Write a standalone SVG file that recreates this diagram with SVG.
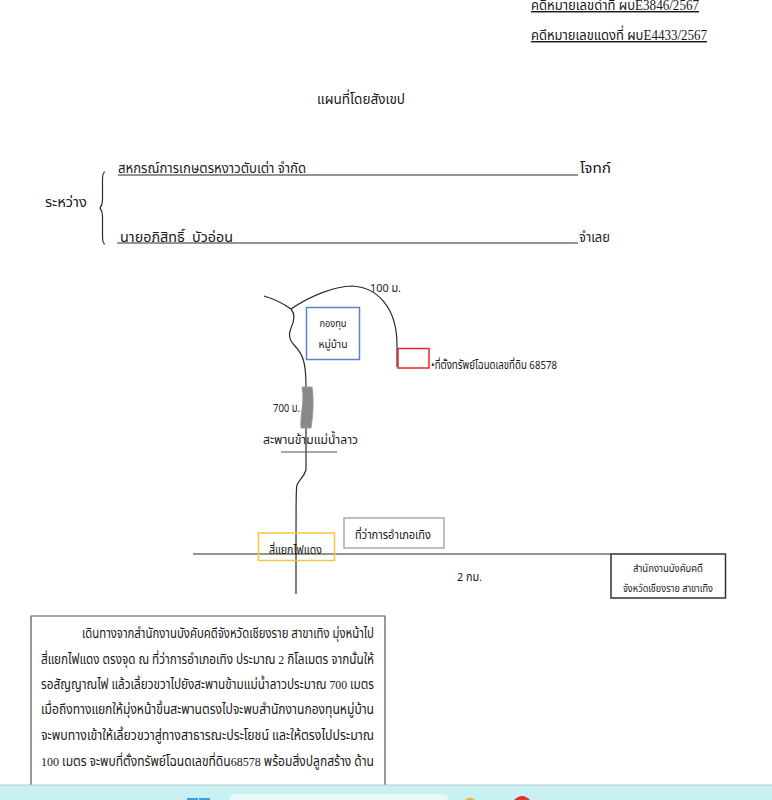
<svg xmlns="http://www.w3.org/2000/svg" width="772" height="800" viewBox="0 0 772 800">
<style>
text{font-family:"Liberation Serif","Noto Sans Thai","Noto Serif Thai","DejaVu Sans",serif;fill:#1a1a1a}
.s{font-family:"Noto Sans","Noto Sans Thai","DejaVu Sans",sans-serif}
.b{font-size:13.5px}
.h{font-size:14.5px}
.m{font-size:11px}
.l{fill:none;stroke:#2a2a2a;stroke-width:1.2}
</style>
<rect width="772" height="800" fill="#fff"/>
<g id="case-numbers">
<text class="h" x="531" y="10" textLength="168" lengthAdjust="spacingAndGlyphs" text-decoration="underline">คดีหมายเลขดำที่ ผบE3846/2567</text>
<text class="h" x="531" y="40" textLength="176" lengthAdjust="spacingAndGlyphs" text-decoration="underline">คดีหมายเลขแดงที่ ผบE4433/2567</text>
</g>
<text id="title" class="h" x="317" y="104" textLength="88" lengthAdjust="spacingAndGlyphs">แผนที่โดยสังเขป</text>
<g id="parties">
<text class="h" x="45" y="207" textLength="42" lengthAdjust="spacingAndGlyphs">ระหว่าง</text>
<path class="l" d="M105 172C103 172 102.500 175 102.500 180V200Q102.500 205 100 208Q102.500 211 102.500 216V236C102.500 241 103 244 105 244"/>
<text class="h" x="118" y="173" textLength="188" lengthAdjust="spacingAndGlyphs">สหกรณ์การเกษตรหงาวตับเต่า จำกัด</text>
<path class="l" d="M118 175H578"/>
<text class="h" x="580" y="173" textLength="31" lengthAdjust="spacingAndGlyphs">โจทก์</text>
<text class="h" x="120" y="242" textLength="113" lengthAdjust="spacingAndGlyphs" xml:space="preserve">นายอภิสิทธิ์  บัวอ่อน</text>
<path class="l" d="M117 243H578"/>
<text class="h" x="579" y="242" textLength="31" lengthAdjust="spacingAndGlyphs">จำเลย</text>
</g>
<g id="connectors">
<path class="l" d="M264 296C274 299 284 304 291 309C296 315 294 322 291 328C288 335 289 340 294 345C303 354 306 362 306 387"/>
<path class="l" d="M291 309C310 296 335 286 352 286C375 287 397 305 397 345V367"/>
<path class="l" d="M306 428V470C304 477 299 480 297 485C296 488 296 495 296 594"/>
<path class="l" d="M193 554H611"/>
<path fill="#888" stroke="#9a9a9a" d="M302 387H312C314 400 313 415 311 428H301C300 415 305 400 302 387Z"/>
<path d="M281 452H337" fill="none" stroke="#555" stroke-width="1.2"/>
</g>
<g id="fund"><rect x="306.500" y="307.500" width="53" height="52" fill="#fff" stroke="#5b84c4" stroke-width="1.500"/>
<text class="s m" x="333" y="327" text-anchor="middle" textLength="27" lengthAdjust="spacingAndGlyphs">กองทุน</text>
<text class="s m" x="333" y="348" text-anchor="middle" textLength="29" lengthAdjust="spacingAndGlyphs">หมู่บ้าน</text></g>
<g id="land"><rect x="398" y="348.500" width="31" height="19.500" fill="#fff" stroke="#f0242a" stroke-width="1.500"/>
<text class="s" font-size="11.500" x="431" y="369" textLength="126" lengthAdjust="spacingAndGlyphs">•ที่ตั้งทรัพย์โฉนดเลขที่ดิน 68578</text></g>
<text class="s" font-size="11.500" x="370" y="292" textLength="31" lengthAdjust="spacingAndGlyphs">100 ม.</text>
<text class="s" font-size="11.500" x="273" y="412" textLength="27" lengthAdjust="spacingAndGlyphs">700 ม.</text>
<text class="s" font-size="13px" x="263" y="444" textLength="95" lengthAdjust="spacingAndGlyphs">สะพานข้ามแม่น้ำลาว</text>
<g id="junction"><rect x="258.500" y="533" width="76" height="27.500" fill="none" stroke="#f6c63c" stroke-width="1.500"/>
<text class="s" font-size="12px" x="269" y="554" textLength="53" lengthAdjust="spacingAndGlyphs">สี่แยกไฟแดง</text></g>
<g id="district"><rect x="344" y="518" width="100" height="30" fill="#fff" stroke="#aaa" stroke-width="1.500"/>
<text class="s" font-size="12px" x="355" y="539" textLength="76" lengthAdjust="spacingAndGlyphs">ที่ว่าการอำเภอเทิง</text></g>
<text class="s" font-size="11.500" x="457" y="581" textLength="25" lengthAdjust="spacingAndGlyphs">2 กม.</text>
<g id="office"><rect x="611" y="554" width="114.500" height="44" fill="#fff" stroke="#333" stroke-width="1.500"/>
<text class="s" font-size="10px" x="668" y="572" text-anchor="middle" textLength="70" lengthAdjust="spacingAndGlyphs">สำนักงานบังคับคดี</text>
<text class="s" font-size="10px" x="668" y="592" text-anchor="middle" textLength="90" lengthAdjust="spacingAndGlyphs">จังหวัดเชียงราย สาขาเทิง</text></g>
<g id="description">
<path d="M31 785V616H385V785" fill="none" stroke="#555" stroke-width="1.200"/>
<text class="b" x="82" y="638" textLength="292" lengthAdjust="spacingAndGlyphs">เดินทางจากสำนักงานบังคับคดีจังหวัดเชียงราย สาขาเทิง มุ่งหน้าไป</text>
<text class="b" x="41" y="664" textLength="333" lengthAdjust="spacingAndGlyphs">สี่แยกไฟแดง ตรงจุด ณ ที่ว่าการอำเภอเทิง ประมาณ 2 กิโลเมตร จากนั้นให้</text>
<text class="b" x="41" y="689" textLength="333" lengthAdjust="spacingAndGlyphs">รอสัญญาณไฟ แล้วเลี้ยวขวาไปยังสะพานข้ามแม่น้ำลาวประมาณ 700 เมตร</text>
<text class="b" x="41" y="714" textLength="333" lengthAdjust="spacingAndGlyphs">เมื่อถึงทางแยกให้มุ่งหน้าขึ้นสะพานตรงไปจะพบสำนักงานกองทุนหมู่บ้าน</text>
<text class="b" x="41" y="740" textLength="333" lengthAdjust="spacingAndGlyphs">จะพบทางเข้าให้เลี้ยวขวาสู่ทางสาธารณะประโยชน์ และให้ตรงไปประมาณ</text>
<text class="b" x="41" y="766" textLength="333" lengthAdjust="spacingAndGlyphs">100 เมตร จะพบที่ตั้งทรัพย์โฉนดเลขที่ดิน68578 พร้อมสิ่งปลูกสร้าง ด้าน</text>
</g>
<g id="taskbar">
<rect x="0" y="785" width="772" height="15" fill="#c9f0f2"/>
<path d="M0 785H772" stroke="#b5c9ca"/>
<rect x="187" y="798" width="11" height="2" fill="#3aa0e0"/>
<rect x="199" y="798" width="11" height="2" fill="#3aa0e0"/>
<path d="M230 800V798Q230 794 236 794H442Q448 794 448 798V800Z" fill="#e8f9f9"/>
<path d="M465 800Q470 795 475 800Z" fill="#e8b83c"/>
<path d="M514 800Q522 792 530 800Z" fill="#e0352f"/>
</g>
</svg>
